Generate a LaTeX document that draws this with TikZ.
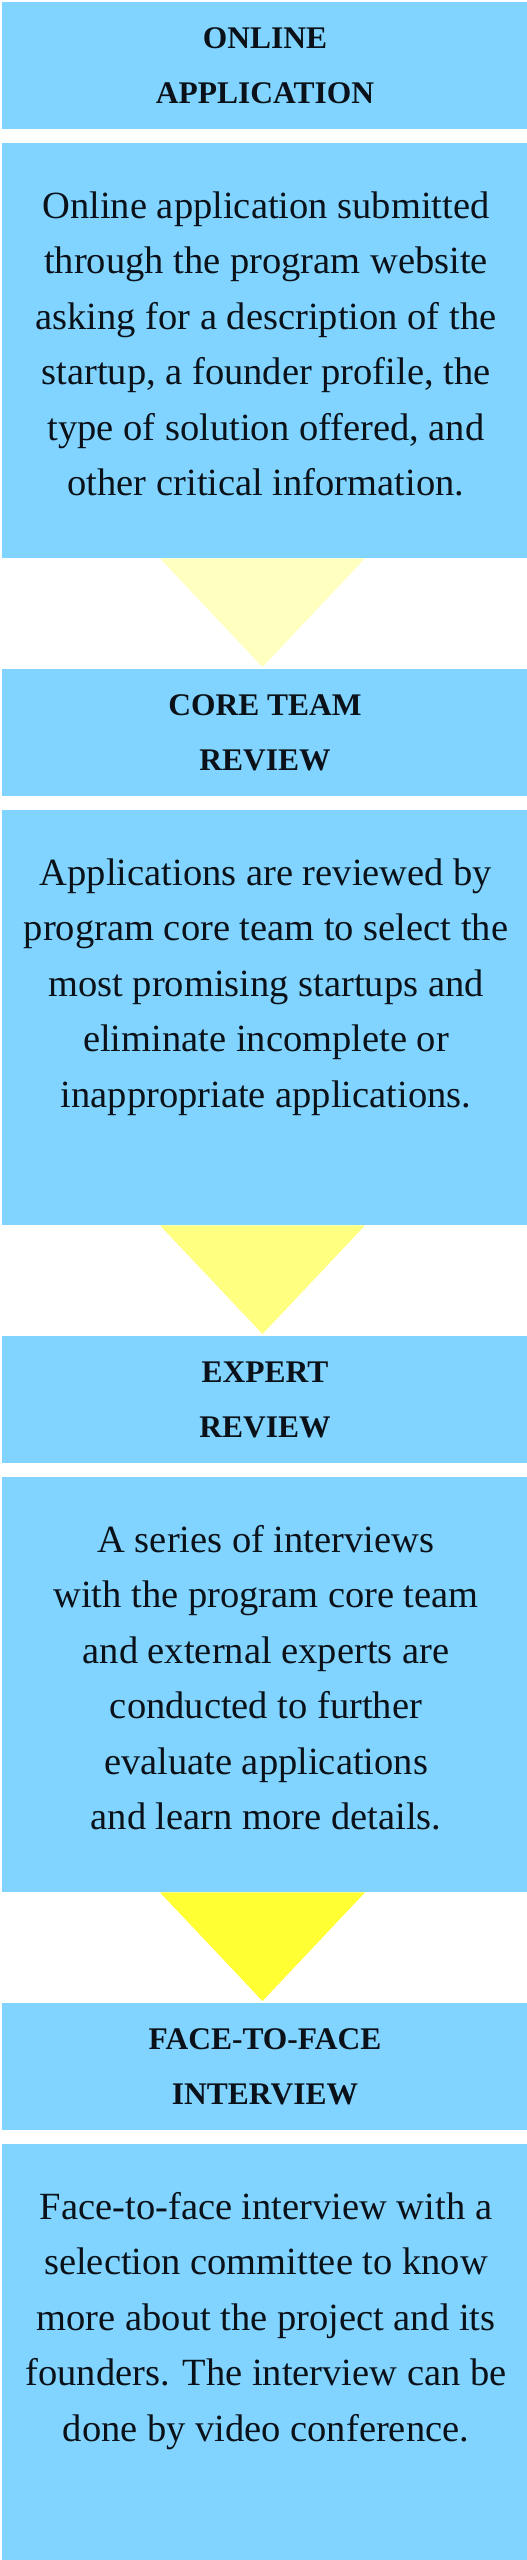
\documentclass[tikz,border=0pt]{standalone}
\usepackage{fontspec}
\setmainfont{Liberation Serif}
\usetikzlibrary{calc}
\definecolor{boxblue}{HTML}{80D4FF}
\definecolor{triA}{HTML}{FFFFC0}
\definecolor{triB}{HTML}{FFFF80}
\definecolor{triC}{HTML}{FFFF33}
\definecolor{inkc}{HTML}{0B1118}
\tikzset{
  panel/.style={rectangle, fill=boxblue, draw=none, inner sep=0pt, minimum width=525pt, anchor=north},
  titlebox/.style={panel, minimum height=127pt},
  bodybox/.style={panel, minimum height=415pt},
  titletext/.style={anchor=north, inner sep=0pt, align=center, text=inkc, font=\fontsize{31.5}{55}\bfseries\selectfont},
  bodytext/.style={anchor=north, inner sep=0pt, align=center, text=inkc, font=\fontsize{38.5}{55.5}\selectfont},
  arrowtri/.style={draw=none},
}
\begin{document}
\begin{tikzpicture}[x=1pt, y=-1pt]
\useasboundingbox (0,0) rectangle (527,2560);
\fill[white] (0,0) rectangle (527,2560);

% boxes
\node[titlebox] (t1) at (264.5,2) {};
\node[bodybox]  (b1) at (264.5,143) {};
\node[titlebox] (t2) at (264.5,669) {};
\node[bodybox]  (b2) at (264.5,810) {};
\node[titlebox] (t3) at (264.5,1336) {};
\node[bodybox]  (b3) at (264.5,1477) {};
\node[titlebox] (t4) at (264.5,2003) {};
\node[bodybox, minimum height=418pt] (b4) at (264.5,2144) {};

% arrows (triangles)
\fill[triA] ($(b1.south)+(-104.5,0)$) -- ($(b1.south)+(100.5,0)$) -- ($(t2.north)+(-2,-2)$) -- cycle;
\fill[triB] ($(b2.south)+(-104.5,0)$) -- ($(b2.south)+(100.5,0)$) -- ($(t3.north)+(-2,-2)$) -- cycle;
\fill[triC] ($(b3.south)+(-104.5,0)$) -- ($(b3.south)+(100.5,0)$) -- ($(t4.north)+(-2,-2)$) -- cycle;

% titles
\node[titletext] (t1x) at (265,22) {\rule{0pt}{26pt}ONLINE\\APPLICATION};
\node[titletext] (t2x) at (265,689) {\rule{0pt}{26pt}CORE TEAM\\REVIEW};
\node[titletext] (t3x) at (265,1356) {\rule{0pt}{26pt}EXPERT\\REVIEW};
\node[titletext] (t4x) at (265,2023) {\rule{0pt}{26pt}FACE-TO-FACE\\INTERVIEW};

% bodies
\node[bodytext] (b1x) at (266,186) {\rule{0pt}{32pt}Online application submitted\\through the program website\\asking for a description of the\\startup, a founder profile, the\\type of solution offered, and\\other critical information.};
\node[bodytext] (b2x) at (266,853) {\rule{0pt}{32pt}Applications are reviewed by\\program core team to select the\\most promising startups and\\eliminate incomplete or\\inappropriate applications.};
\node[bodytext] (b3x) at (266,1520) {\rule{0pt}{32pt}A series of interviews\\with the program core team\\and external experts are\\conducted to further\\evaluate applications\\and learn more details.};
\node[bodytext] (b4x) at (266,2187) {\rule{0pt}{32pt}Face-to-face interview with a\\selection committee to know\\more about the project and its\\founders. The interview can be\\done by video conference.};
\end{tikzpicture}
\end{document}
